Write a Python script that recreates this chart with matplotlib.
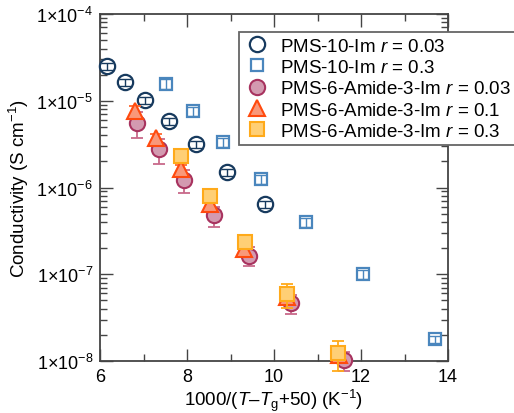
import matplotlib
matplotlib.use("Agg")
import matplotlib.pyplot as plt
from matplotlib.ticker import FuncFormatter, LogLocator, MultipleLocator
from matplotlib.lines import Line2D
import numpy as np

plt.rcParams['font.family'] = ['Liberation Sans', 'DejaVu Sans']
plt.rcParams['mathtext.fontset'] = 'custom'
plt.rcParams['mathtext.rm'] = 'Liberation Sans'
plt.rcParams['mathtext.it'] = 'Liberation Sans:italic'
plt.rcParams['mathtext.bf'] = 'Liberation Sans:bold'

# ---- data ----
# PMS-10-Im r = 0.03
x_a = [6.17, 6.58, 7.03, 7.59, 8.20, 8.92, 9.79]
y_a = [2.5e-5, 1.64e-5, 1.02e-5, 5.85e-6, 3.17e-6, 1.51e-6, 6.46e-7]
e_a = [2.3e-6, 1.5e-6, 0.95e-6, 5.4e-7, 2.9e-7, 1.4e-7, 6.0e-8]
# PMS-10-Im r = 0.3
x_b = [7.52, 8.13, 8.83, 9.70, 10.74, 12.04, 13.69]
y_b = [1.57e-5, 7.6e-6, 3.32e-6, 1.25e-6, 3.95e-7, 1.0e-7, 1.78e-8]
e_b = [1.9e-6, 9e-7, 4e-7, 1.5e-7, 4.7e-8, 1.2e-8, 1.5e-9]
# PMS-6-Amide-3-Im r = 0.03
x_c = [6.84, 7.35, 7.93, 8.61, 9.43, 10.39, 11.62]
y_c = [5.54e-6, 2.75e-6, 1.22e-6, 4.78e-7, 1.64e-7, 4.62e-8, 1.02e-8]
e_c = [1.85e-6, 8.8e-7, 3.55e-7, 1.25e-7, 4.1e-8, 1.1e-8, 2.5e-9]
# PMS-6-Amide-3-Im r = 0.1
x_d = [6.81, 7.29, 7.86, 8.54, 9.30, 10.30, 11.50]
y_d = [7.69e-6, 3.69e-6, 1.63e-6, 6.4e-7, 1.95e-7, 5.4e-8, 1.17e-8]
e_d = [1.0e-6, 4.5e-7, 1.8e-7, 7e-8, 2e-8, 6e-9, 1.2e-9]
# PMS-6-Amide-3-Im r = 0.3
x_e = [7.86, 8.54, 9.33, 10.31, 11.48]
y_e = [2.33e-6, 8.05e-7, 2.37e-7, 5.92e-8, 1.24e-8]
e_e = [2.0e-7, 7e-8, 2.5e-8, 1.86e-8, 4.7e-9]

labels = [r'PMS-10-Im $\mathit{r}$ = 0.03',
          r'PMS-10-Im $\mathit{r}$ = 0.3',
          r'PMS-6-Amide-3-Im $\mathit{r}$ = 0.03',
          r'PMS-6-Amide-3-Im $\mathit{r}$ = 0.1',
          r'PMS-6-Amide-3-Im $\mathit{r}$ = 0.3']

fig = plt.figure(figsize=(5.14, 4.14), dpi=100)
ax = fig.add_axes([100/514, 1-362/414, 348/514, 347/414])

styles = [
    dict(marker='o', ms=11, mfc='white', mec='#173a5e', mew=1.6),
    dict(marker='s', ms=9, mfc='white', mec='#4a86bd', mew=1.6),
    dict(marker='o', ms=11, mfc='#d39ab0', mec='#a8335f', mew=1.5),
    dict(marker='^', ms=11, mfc='#f9987a', mec='#ff4a0e', mew=1.5),
    dict(marker='s', ms=10, mfc='#ffcf75', mec='#ffaa1a', mew=1.5),
]

def set_noclip(eb):
    line, caps, bars = eb.lines
    if line is not None:
        line.set_clip_on(False)
    for c in caps:
        c.set_clip_on(False)
    for b in bars:
        b.set_clip_on(False)

# PMS-10-Im: open markers with error bars drawn on top of marker face
ax.plot(x_a, y_a, ls='none', zorder=3, clip_on=False, **styles[0])
eb = ax.errorbar(x_a, y_a, yerr=e_a, fmt='none', ecolor='#173a5e', elinewidth=1.0,
                 capsize=4, capthick=1.0, zorder=3.5)
set_noclip(eb)
ax.plot(x_b, y_b, ls='none', zorder=3, clip_on=False, **styles[1])
eb = ax.errorbar(x_b, y_b, yerr=e_b, fmt='none', ecolor='#4a86bd', elinewidth=1.0,
                 capsize=4.5, capthick=1.0, zorder=3.5)
set_noclip(eb)

# PMS-6-Amide-3-Im: filled markers, error bars behind
eb = ax.errorbar(x_c, y_c, yerr=e_c, fmt='none', ecolor='#c8698a', elinewidth=1.3,
                 capsize=4.5, capthick=1.3, zorder=4)
set_noclip(eb)
ax.plot(x_c, y_c, ls='none', zorder=4.2, clip_on=False, **styles[2])
eb = ax.errorbar(x_d, y_d, yerr=e_d, fmt='none', ecolor='#ff6a30', elinewidth=1.3,
                 capsize=4.5, capthick=1.3, zorder=5)
set_noclip(eb)
ax.plot(x_d, y_d, ls='none', zorder=5.2, clip_on=False, **styles[3])
eb = ax.errorbar(x_e, y_e, yerr=e_e, fmt='none', ecolor='#ffaa1a', elinewidth=1.3,
                 capsize=4.5, capthick=1.3, zorder=6)
set_noclip(eb)
ax.plot(x_e, y_e, ls='none', zorder=6.2, clip_on=False, **styles[4])

ax.set_yscale('log')
ax.set_xlim(6, 14)
ax.set_ylim(1e-8, 1e-4)
ax.xaxis.set_major_locator(MultipleLocator(2))
ax.xaxis.set_minor_locator(MultipleLocator(1))
ax.yaxis.set_major_locator(LogLocator(base=10, numticks=10))
ax.yaxis.set_minor_locator(LogLocator(base=10, subs=np.arange(2, 10), numticks=20))
ax.yaxis.set_major_formatter(FuncFormatter(lambda v, p: r'$1{\times}10^{%d}$' % int(round(np.log10(v)))))
ax.yaxis.set_minor_formatter(FuncFormatter(lambda v, p: ''))

spine_col = '#444444'
for s in ax.spines.values():
    s.set_color(spine_col)
    s.set_linewidth(1.3)
ax.tick_params(which='both', direction='in', top=True, right=True, color=spine_col,
               labelsize=13, width=1.0)
ax.tick_params(which='major', length=9, pad=5)
ax.tick_params(which='minor', length=5)

ax.set_xlabel(r'1000/($\mathit{T}$–$\mathit{T}_{\mathrm{g}}$+50) (K$^{-1}$)', fontsize=13.5, labelpad=1)
ax.set_ylabel(r'Conductivity (S cm$^{-1}$)', fontsize=13.5, labelpad=4)

handles = [Line2D([], [], ls='none', **st) for st in styles]
leg = fig.legend(handles=handles, labels=labels, loc='upper left',
                 bbox_to_anchor=(239/514, 1-33/414), fontsize=13.5, frameon=True,
                 fancybox=False, edgecolor='#666666', framealpha=1.0,
                 labelspacing=0.22, handletextpad=0.6, borderpad=0.3, handlelength=1.3,
                 borderaxespad=0.0)
leg.get_frame().set_linewidth(1.3)
leg.set_zorder(10)

fig.savefig('out.png', dpi=100)
